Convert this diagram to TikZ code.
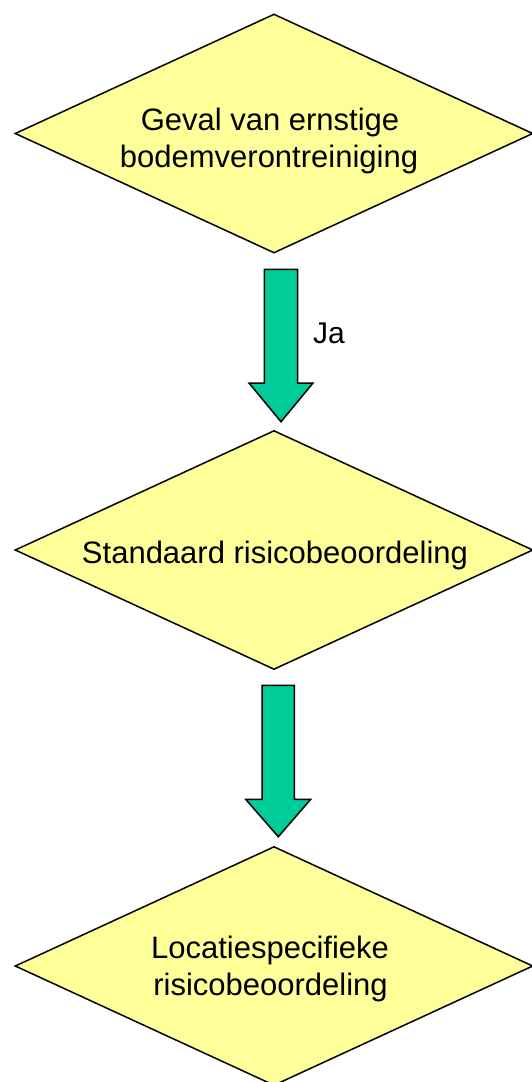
\documentclass[tikz,border=0pt]{standalone}
\usepackage{fontspec}
\setmainfont{Liberation Sans}
\usetikzlibrary{shapes.geometric}
\definecolor{dyellow}{HTML}{FFFF99}
\definecolor{agreen}{HTML}{00CC99}
\tikzset{
  decision/.style={shape=diamond, draw=black, fill=dyellow, line width=1.5pt,
    inner sep=0pt, minimum width=518pt, minimum height=239pt},
  lbl/.style={font=\fontsize{31}{37}\selectfont, inner sep=0pt, anchor=base},
  blockarrow/.style={draw=black, fill=agreen, line width=1.5pt, line join=miter},
}
\begin{document}
\begin{tikzpicture}[x=1pt,y=-1pt]
\useasboundingbox (0,0) rectangle (532,1082);
\begin{scope}
\clip (0,0) rectangle (532,1082);
\node[decision] (d1) at (274,133.5) {};
\node[decision] (d2) at (274,550) {};
\node[decision] (d3) at (274,966) {};
\node[lbl] (t1a) at (270,130) {Geval van ernstige};
\node[lbl] (t1b) at (269,167) {bodemverontreiniging};
\node[lbl] (t2) at (275,563) {Standaard risicobeoordeling};
\node[lbl] (t3a) at (270,958) {Locatiespecifieke};
\node[lbl] (t3b) at (270.5,995) {risicobeoordeling};
% block arrows
\draw[blockarrow] (264.3,269.3) -- (297.7,269.3) -- (297.7,383) -- (313,383)
  -- (281,421.7) -- (249,383) -- (264.3,383) -- cycle;
\draw[blockarrow] (262,685.3) -- (294.3,685.3) -- (294.3,799.3) -- (310.7,799.3)
  -- (278.3,836.7) -- (245.7,799.3) -- (262,799.3) -- cycle;
\node[lbl, font=\fontsize{30}{36}\selectfont, anchor=base west] (ja) at (313,343.3) {Ja};
\end{scope}
\end{tikzpicture}
\end{document}
